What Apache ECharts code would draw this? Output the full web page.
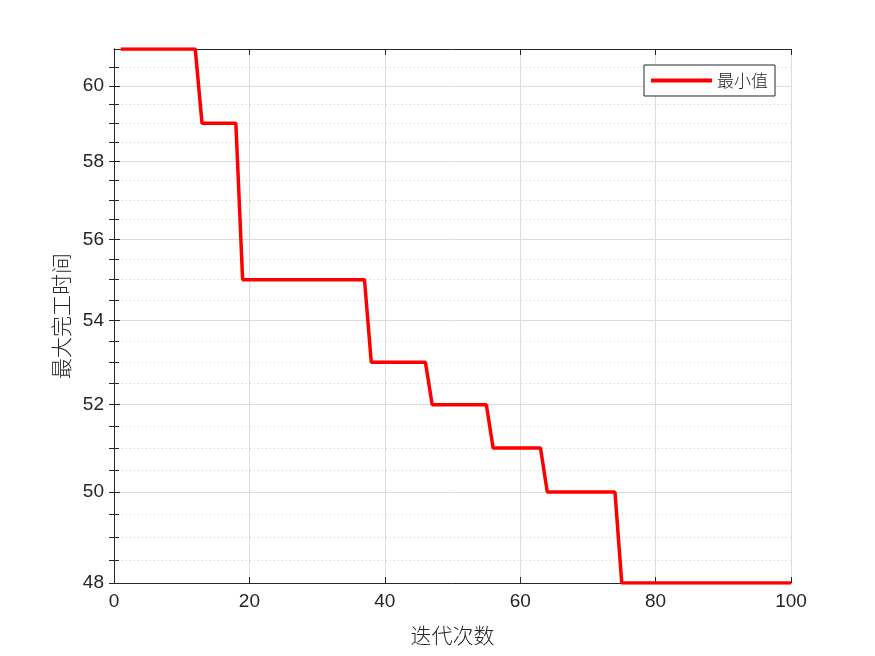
<!DOCTYPE html>
<html><head><meta charset="utf-8">
<script src="https://cdn.jsdelivr.net/npm/echarts@6/dist/echarts.min.js"></script>
<style>html,body{margin:0;padding:0;background:#fff}#c{width:875px;height:656px}</style>
</head><body><div id="c"></div>
<script>
// iteration numbers 1..100 and best makespan per iteration
const iterations = [1,2,3,4,5,6,7,8,9,10,11,12,13,14,15,16,17,18,19,20,21,22,23,24,25,26,27,28,29,30,31,32,33,34,35,36,37,38,39,40,41,42,43,44,45,46,47,48,49,50,51,52,53,54,55,56,57,58,59,60,61,62,63,64,65,66,67,68,69,70,71,72,73,74,75,76,77,78,79,80,81,82,83,84,85,86,87,88,89,90,91,92,93,94,95,96,97,98,99,100];
const minValues = [61,61,61,61,61,61,61,61,61,61,61,61,
  59,59,59,59,59,59,
  55,55,55,55,55,55,55,55,55,55,55,55,55,55,55,55,55,55,55,
  53,53,53,53,53,53,53,53,53,
  52,52,52,52,52,52,52,52,52,
  51,51,51,51,51,51,51,51,
  50,50,50,50,50,50,50,50,50,50,50,
  48,48,48,48,48,48,48,48,48,48,48,48,48,48,48,48,48,48,48,48,48,48,48,48,48,48];
const yMajorTicks = [48,50,52,54,56,58,60];
const yMinorTicks = [48.5,49,49.5,50.5,51,51.5,52.5,53,53.5,54.5,55,55.5,56.5,57,57.5,58.5,59,59.5,60.5];
const yAllTicks = yMajorTicks.concat(yMinorTicks);
const seriesName = '最小值';
const xTitle = '迭代次数';
const yTitle = '最大完工时间';

const chart = echarts.init(document.getElementById('c'));
const axisColor = '#262626';
const labelFont = {fontFamily:'Liberation Sans, Arial, sans-serif', fontSize:19, color:axisColor};
const cjk = 'Noto Sans CJK SC, sans-serif';
chart.setOption({
  animation:false,
  backgroundColor:'#fff',
  grid:{left:114, right:84, top:49, bottom:73, containLabel:false},
  legend:{
    data:[{name:seriesName, icon:'rect'}],
    right:100, top:65, orient:'vertical',
    backgroundColor:'#fff', borderColor:'#262626', borderWidth:1,
    padding:[7,7,7,7], itemWidth:61, itemHeight:4, itemGap:5,
    textStyle:{fontFamily:cjk, fontSize:17, fontWeight:300, color:axisColor}
  },
  xAxis:[{
    type:'value', min:0, max:100, interval:20, position:'bottom',
    name:xTitle, nameLocation:'middle', nameGap:42,
    nameTextStyle:{fontFamily:cjk, fontSize:21, fontWeight:300, color:axisColor},
    axisLine:{onZero:false, lineStyle:{color:axisColor, width:1}},
    axisTick:{inside:true, length:6, lineStyle:{color:axisColor}},
    axisLabel:Object.assign({margin:9}, labelFont),
    splitLine:{show:true, lineStyle:{color:'#dcdcdc', width:1}}
  },{
    type:'value', min:0, max:100, interval:20, position:'top',
    axisLine:{onZero:false, lineStyle:{color:axisColor, width:1}},
    axisTick:{inside:true, length:6, lineStyle:{color:axisColor}},
    axisLabel:{show:false}, splitLine:{show:false}
  }],
  yAxis:[{
    type:'log', min:48, max:61, position:'left',
    name:yTitle, nameLocation:'middle', nameGap:41,
    nameTextStyle:{fontFamily:cjk, fontSize:21, fontWeight:300, color:axisColor},
    axisLine:{show:true, lineStyle:{color:axisColor, width:1}},
    axisTick:{show:true, inside:true, length:6, customValues:yMajorTicks, lineStyle:{color:axisColor}},
    axisLabel:Object.assign({margin:10, customValues:yMajorTicks}, labelFont),
    splitLine:{show:true, lineStyle:{color:'#dcdcdc', width:1}}
  },{
    type:'log', min:48, max:61, position:'right',
    axisLine:{show:true, lineStyle:{color:axisColor, width:1}},
    axisTick:{show:true, inside:true, length:5, customValues:yAllTicks, lineStyle:{color:axisColor}},
    axisLabel:{show:false}, splitLine:{show:false}
  },{
    type:'log', min:48, max:61, position:'left',
    axisLine:{show:false},
    axisTick:{show:true, inside:true, length:5, customValues:yMinorTicks, lineStyle:{color:axisColor}},
    axisLabel:{show:false},
    splitLine:{show:true, lineStyle:{color:'#d0d0d0', width:1, type:[1,3]}}
  }],
  series:[{
    name:seriesName, type:'line', xAxisIndex:0, yAxisIndex:0,
    data:iterations.map((x,i)=>[x, minValues[i]]),
    showSymbol:false, symbol:'none',
    lineStyle:{color:'#ff0000', width:3.5}, itemStyle:{color:'#ff0000'},
    z:5
  }]
});
</script></body></html>
